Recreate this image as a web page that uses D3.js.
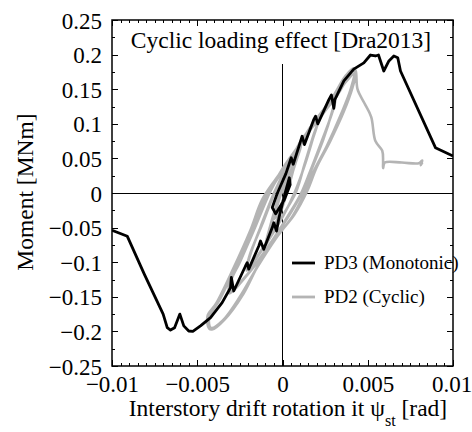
<!DOCTYPE html>
<html><head><meta charset="utf-8">
<script src="https://cdn.jsdelivr.net/npm/d3@7"></script>
<style>
html,body{margin:0;padding:0;background:#fff;}
svg text{font-family:"Liberation Serif","Times New Roman",serif;fill:#000;}
</style></head>
<body>
<svg id="chart" width="472" height="432" font-family="Liberation Serif, Times New Roman, serif"></svg>
<script>
// ---- data ----
const xTicks = [-0.01, -0.005, 0, 0.005, 0.01];
const yTicks = [-0.25, -0.2, -0.15, -0.1, -0.05, 0, 0.05, 0.1, 0.15, 0.2, 0.25];
const titleText = "Cyclic loading effect [Dra2013]";
const seriesNames = ["PD3 (Monotonic)", "PD2 (Cyclic)"];

// PD3 monotonic (rotation rad, moment MNm)
const monotonic = [
 [-0.0100,-0.054],[-0.0091,-0.0626],[-0.0081,-0.1175],[-0.0070,-0.175],[-0.00676,-0.1946],
 [-0.00657,-0.198],[-0.00633,-0.1946],[-0.00602,-0.175],[-0.00579,-0.192],[-0.0055,-0.1994],
 [-0.00526,-0.200],[-0.00481,-0.192],[-0.00422,-0.180],[-0.00354,-0.1585],[-0.00305,-0.137],
 [-0.00300,-0.122],[-0.00286,-0.1416],[-0.00217,-0.1055],[-0.00207,-0.1007],[-0.00198,-0.110],
 [-0.00139,-0.0766],[-0.00129,-0.0694],[-0.0011,-0.0814],[-0.0006,-0.050],[-0.00051,-0.043],
 [-0.00035,-0.055],[-0.0002,-0.035],[0.0001,-0.005],[0.0004,0.022],[0.00045,0.012],
 [0.0001,-0.010],[-0.0004,-0.030],[-0.0006,-0.021],[-0.0003,0.000],[0.0002,0.028],
 [0.00051,0.051],[0.00063,0.0415],[0.00106,0.075],[0.00115,0.082],[0.00129,0.070],
 [0.00184,0.1065],[0.00194,0.111],[0.00207,0.100],[0.00272,0.135],[0.00287,0.1416],
 [0.00301,0.1224],[0.00307,0.135],[0.0036,0.162],[0.00418,0.179],[0.00477,0.188],
 [0.00516,0.1994],[0.00545,0.198],[0.00563,0.1994],[0.00594,0.1763],[0.00624,0.1908],
 [0.00653,0.198],[0.00676,0.1955],[0.00692,0.1763],[0.00897,0.0655],[0.0100,0.0535]
];

// PD2 cyclic (rotation rad, moment MNm)
const cyclic = [
 [0,0],[0.0003,0.020],[0.0005,0.032],[0.0003,0.012],[0,-0.012],[-0.0003,-0.030],[-0.0005,-0.038],
 [-0.0003,-0.018],[0,0.005],[0.0003,0.022],[0.0005,0.033],
 [0.0008,0.050],[0.0011,0.068],[0.0008,0.046],[0.0004,0.015],[0,-0.018],[-0.0005,-0.050],[-0.0010,-0.075],
 [-0.0007,-0.048],[-0.0003,-0.014],[0.0001,0.018],[0.0006,0.048],[0.0011,0.070],
 [0.0008,0.048],[0.0004,0.012],[0,-0.020],[-0.0005,-0.052],[-0.0010,-0.076],
 [-0.0007,-0.046],[-0.0003,-0.012],[0.0001,0.020],[0.0006,0.050],[0.0011,0.070],
 [0.0016,0.090],[0.0021,0.105],[0.0018,0.080],[0.0013,0.040],[0.0007,0.000],[0,-0.035],[-0.0010,-0.075],[-0.0021,-0.112],
 [-0.0019,-0.090],[-0.0013,-0.050],[-0.0005,0.000],[0.0003,0.040],[0.0012,0.078],[0.0021,0.106],
 [0.0018,0.082],[0.0013,0.042],[0.0008,0.002],[0,-0.033],[-0.0010,-0.074],[-0.0021,-0.110],
 [-0.0019,-0.088],[-0.0012,-0.046],[-0.0004,0.004],[0.0004,0.044],[0.0012,0.080],[0.0021,0.105],
 [0.0026,0.122],[0.0031,0.135],[0.0029,0.115],[0.0023,0.075],[0.0016,0.030],[0.0011,0.000],[0.0004,-0.030],
 [-0.0005,-0.065],[-0.0015,-0.100],[-0.0025,-0.130],[-0.0031,-0.145],
 [-0.0031,-0.128],[-0.0026,-0.105],[-0.0018,-0.060],[-0.0008,0.000],[0,0.035],[0.0010,0.070],[0.0020,0.105],[0.0031,0.138],
 [0.0029,0.117],[0.0024,0.078],[0.0017,0.034],[0.0012,0.003],[0.0005,-0.028],
 [-0.0004,-0.062],[-0.0014,-0.098],[-0.0024,-0.128],[-0.0030,-0.143],
 [-0.0030,-0.126],[-0.0025,-0.100],[-0.0017,-0.055],[-0.0007,0.003],[0.0001,0.038],[0.0011,0.074],[0.0021,0.108],[0.0031,0.137],
 [0.0037,0.160],[0.0043,0.174],[0.0041,0.152],[0.0036,0.118],[0.0028,0.075],[0.0020,0.037],[0.00145,0.003],[0.0007,-0.031],
 [-0.0003,-0.062],[-0.0014,-0.103],[-0.0023,-0.146],[-0.0034,-0.183],[-0.0041,-0.197],[-0.0043,-0.196],
 [-0.0044,-0.178],[-0.0039,-0.160],[-0.0029,-0.110],[-0.0019,-0.055],[-0.0012,-0.010],[-0.0004,0.020],
 [0.0005,0.050],[0.0016,0.094],[0.0029,0.137],[0.0038,0.172],[0.0042,0.176],
 [0.0040,0.150],[0.0034,0.112],[0.0026,0.068],[0.0018,0.030],[0.0013,0.000],[0.0006,-0.033],
 [-0.0004,-0.066],[-0.0015,-0.108],[-0.0025,-0.150],[-0.0035,-0.184],[-0.0042,-0.195],
 [-0.0043,-0.180],[-0.0037,-0.155],[-0.0027,-0.104],[-0.0017,-0.050],[-0.0010,-0.008],[-0.0002,0.024],
 [0.0007,0.056],[0.0018,0.100],[0.0030,0.140],[0.0039,0.175],[0.0042,0.180],
 [0.0043,0.176],[0.0044,0.150],[0.0048,0.130],[0.0052,0.110],[0.00545,0.075],[0.00585,0.061],
 [0.0059,0.046],[0.0059,0.036],[0.0060,0.044],[0.0070,0.044],[0.0080,0.043],[0.0082,0.047],[0.0081,0.040],[0.0082,0.044]
];

// ---- layout ----
const svg = d3.select("#chart");
const L = 112, R = 453, T = 20, B = 366;
const x = d3.scaleLinear().domain([-0.01, 0.01]).range([L, R]);
const y = d3.scaleLinear().domain([-0.25, 0.25]).range([B, T]);
const fmt = v => v === 0 ? "0" : String(v).replace("-", "\u2212");
const FS = 23;
const FONT = "Liberation Serif, Times New Roman, serif";

const xMinor = d3.range(-0.01, 0.01 + 1e-9, 0.0005);
const yMinor = d3.range(-0.25, 0.25 + 1e-9, 0.025);

function axisGroup(axis, tr) {
  const g = svg.append("g").attr("transform", tr).call(axis);
  g.select(".domain").remove();
  g.attr("font-family", FONT);
  g.selectAll(".tick line").attr("stroke", "#000").attr("stroke-width", 1).attr("shape-rendering", "crispEdges");
  return g;
}
// minor ticks
axisGroup(d3.axisBottom(x).tickValues(xMinor).tickSize(-3).tickFormat(""), `translate(0,${B})`);
axisGroup(d3.axisTop(x).tickValues(xMinor).tickSize(-3).tickFormat(""), `translate(0,${T})`);
axisGroup(d3.axisLeft(y).tickValues(yMinor).tickSize(-3).tickFormat(""), `translate(${L},0)`);
axisGroup(d3.axisRight(y).tickValues(yMinor).tickSize(-3).tickFormat(""), `translate(${R},0)`);
// major ticks
const gx = axisGroup(d3.axisBottom(x).tickValues(xTicks).tickSize(-6).tickFormat(fmt), `translate(0,${B})`);
axisGroup(d3.axisTop(x).tickValues(xTicks).tickSize(-6).tickFormat(""), `translate(0,${T})`);
const gy = axisGroup(d3.axisLeft(y).tickValues(yTicks).tickSize(-6).tickFormat(fmt), `translate(${L},0)`);
axisGroup(d3.axisRight(y).tickValues(yTicks).tickSize(-6).tickFormat(""), `translate(${R},0)`);

svg.selectAll(".tick text").attr("font-family", FONT).attr("font-size", FS).attr("fill", "#000");
gx.selectAll(".tick text").attr("dy", null).attr("y", 26)
  .attr("x", d => d === xTicks[xTicks.length - 1] ? -1.5 : 0);
gy.selectAll(".tick text").attr("dy", "0.35em").attr("x", -10);

// zero lines
svg.append("line").attr("x1", L).attr("x2", R).attr("y1", y(0)).attr("y2", y(0))
  .attr("stroke", "#000").attr("stroke-width", 1).attr("shape-rendering", "crispEdges");
svg.append("line").attr("x1", x(0)).attr("x2", x(0)).attr("y1", y(0.187)).attr("y2", B)
  .attr("stroke", "#000").attr("stroke-width", 1).attr("shape-rendering", "crispEdges");

// series
svg.append("clipPath").attr("id", "clp").append("rect")
  .attr("x", L).attr("y", T).attr("width", R - L).attr("height", B - T);
const plot = svg.append("g").attr("clip-path", "url(#clp)");
const lineLin = d3.line().x(d => x(d[0])).y(d => y(d[1]));
const lineSmooth = d3.line().x(d => x(d[0])).y(d => y(d[1])).curve(d3.curveCatmullRom.alpha(0.5));
const GREY = "#b4b4b4";
plot.append("path").datum(cyclic).attr("d", lineSmooth).attr("fill", "none")
  .attr("stroke", GREY).attr("stroke-width", 2.6).attr("stroke-linejoin", "round");
plot.append("path").datum(monotonic).attr("d", lineLin).attr("fill", "none")
  .attr("stroke", "#000").attr("stroke-width", 2.8).attr("stroke-linejoin", "round");

// frame
svg.append("rect").attr("x", L).attr("y", T).attr("width", R - L).attr("height", B - T)
  .attr("fill", "none").attr("stroke", "#000").attr("stroke-width", 1.5);

// title
svg.append("text").attr("x", 281).attr("y", 48).attr("text-anchor", "middle")
  .attr("font-size", 23.5).text(titleText);

// legend
const leg = [{n: seriesNames[0], c: "#000", yy: 263}, {n: seriesNames[1], c: GREY, yy: 297}];
leg.forEach(d => {
  svg.append("line").attr("x1", 292).attr("x2", 315).attr("y1", d.yy).attr("y2", d.yy)
    .attr("stroke", d.c).attr("stroke-width", 2.8);
  svg.append("text").attr("x", 324).attr("y", d.yy + 6).attr("font-size", 19).text(d.n);
});

// axis labels
const xl = svg.append("text").attr("x", 288).attr("y", 416).attr("text-anchor", "middle").attr("font-size", 23.5);
xl.append("tspan").text("Interstory drift rotation it \u03C8");
xl.append("tspan").attr("font-size", 16).attr("dy", 10).text("st");
xl.append("tspan").attr("dy", -10).text(" [rad]");

svg.append("text").attr("transform", "translate(33,192) rotate(-90)").attr("text-anchor", "middle")
  .attr("font-size", 23.5).text("Moment [MNm]");
</script>
</body></html>
